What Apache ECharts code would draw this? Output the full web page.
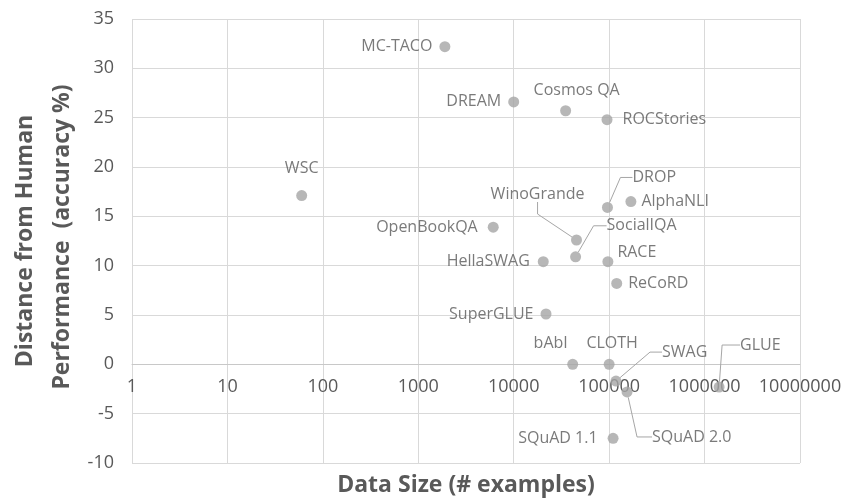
<!DOCTYPE html>
<html><head><meta charset="utf-8">
<script src="https://cdn.jsdelivr.net/npm/echarts@6/dist/echarts.min.js"></script>
<style>html,body{margin:0;padding:0;background:#fff}#c{width:850px;height:500px}</style>
</head><body><div id="c"></div>
<script>
// ---- data ----
const datasetNames = ['MC-TACO','DREAM','Cosmos QA','ROCStories','WSC','DROP','AlphaNLI','OpenBookQA','WinoGrande','SocialIQA','HellaSWAG','RACE','ReCoRD','SuperGLUE','bAbI','CLOTH','SWAG','SQuAD 2.0','GLUE','SQuAD 1.1'];
const dataSizes = [1900,10000,35000,95000,60,96000,169000,6100,45500,44500,20400,97000,120000,21800,41500,100000,118000,154000,1420000,110000];
const humanGap = [32.2,26.6,25.7,24.8,17.1,15.9,16.5,13.9,12.6,10.9,10.4,10.4,8.2,5.1,0,0,-1.7,-2.8,-2.3,-7.5];
const xTickLabels = ['1','10','100','1000','10000','100000','1000000','10000000'];
const yMin = -10, yMax = 35, yStep = 5;
const xTitle = 'Data Size (# examples)';
const yTitleLines = ['Distance from Human', 'Performance  (accuracy %)'];

// ---- label placement (styles, kept apart from the data) ----
const labelPlace = {
  'MC-TACO': {pos:'left'},
  'DREAM': {pos:'left'},
  'Cosmos QA': {pos:'top', move:[11,0]},
  'ROCStories': {pos:'right', dist:10},
  'WSC': {pos:'top', move:[0,-7]},
  'DROP': {pos:'right', move:[12.5,-30], line:12},
  'AlphaNLI': {pos:'right', dist:5},
  'OpenBookQA': {pos:'left', dist:10},
  'WinoGrande': {pos:'left', move:[20.5,-46], line:12},
  'SocialIQA': {pos:'right', move:[18.5,-31], line:13},
  'HellaSWAG': {pos:'left', dist:8},
  'RACE': {pos:'right', dist:4, move:[0,-9]},
  'ReCoRD': {pos:'right', dist:6},
  'SuperGLUE': {pos:'left'},
  'bAbI': {pos:'top', move:[-22,0]},
  'CLOTH': {pos:'top', move:[3,0]},
  'SWAG': {pos:'right', move:[33.5,-29], line:12},
  'SQuAD 2.0': {pos:'right', move:[12.5,45], line:15},
  'GLUE': {pos:'right', move:[8.5,-42], line:18},
  'SQuAD 1.1': {pos:'left', dist:10}
};

const FONT = '"Open Sans", sans-serif';
const TXT = '#595959';

const points = datasetNames.map((n, i) => {
  const p = labelPlace[n] || {pos:'right'};
  const item = {
    name: n,
    value: [dataSizes[i], humanGap[i]],
    label: {position: p.pos, distance: p.dist != null ? p.dist : 7}
  };
  if (p.line != null) {
    item.labelLine = {show: true, length2: p.line, lineStyle: {color: '#a6a6a6', width: 1}};
  }
  return item;
});

const yTitleStyle = (t) => ({text: t, fill: TXT, fontFamily: FONT, fontSize: 23, fontWeight: 'bold', align: 'center', verticalAlign: 'middle'});

const chart = echarts.init(document.getElementById('c'), null, {renderer: 'canvas'});
chart.setOption({
  animation: false,
  backgroundColor: '#ffffff',
  title: {
    text: xTitle, left: 466, top: 474, textAlign: 'center', padding: 0,
    textStyle: {color: TXT, fontFamily: FONT, fontSize: 23, fontWeight: 'bold'}
  },
  graphic: [
    {type: 'text', x: 25, y: 241, rotation: Math.PI / 2, style: yTitleStyle(yTitleLines[0])},
    {type: 'text', x: 62, y: 237, rotation: Math.PI / 2, style: yTitleStyle(yTitleLines[1])}
  ],
  grid: {left: 132, right: 50, top: 19, bottom: 37, containLabel: false, outerBoundsMode: 'none'},
  xAxis: {
    type: 'log', logBase: 10, min: 1, max: 10000000,
    axisLine: {show: true, onZero: false, lineStyle: {color: '#c8c8c8', width: 1}},
    axisTick: {show: false},
    splitLine: {show: true, lineStyle: {color: '#d9d9d9', width: 1}},
    minorSplitLine: {show: false},
    axisLabel: {
      color: TXT, fontFamily: FONT, fontSize: 18, margin: 14,
      formatter: v => xTickLabels[Math.round(Math.log10(v))] || ''
    }
  },
  yAxis: {
    type: 'value', min: yMin, max: yMax, interval: yStep,
    axisLine: {show: false, onZero: false}, axisTick: {show: false},
    splitLine: {show: true, lineStyle: {color: '#d9d9d9', width: 1}},
    axisLabel: {color: TXT, fontFamily: FONT, fontSize: 18, margin: 18}
  },
  series: [{
    type: 'scatter',
    symbol: 'circle', symbolSize: 11,
    itemStyle: {color: '#a5a5a5'},
    label: {show: true, formatter: '{b}', color: TXT, fontFamily: FONT, fontSize: 16},
    labelLine: {show: false},
    labelLayout: function (params) {
      const p = labelPlace[datasetNames[params.dataIndex]];
      if (p && p.move) return {dx: p.move[0], dy: p.move[1]};
      return {};
    },
    data: points
  }]
});

// Put the x axis (line + labels) on y = 0, using the library's own y scale.
const yZeroPx = chart.convertToPixel({yAxisIndex: 0}, 0);
const yBottomPx = chart.convertToPixel({yAxisIndex: 0}, yMin);
chart.setOption({xAxis: {offset: yZeroPx - yBottomPx}});
</script></body></html>
